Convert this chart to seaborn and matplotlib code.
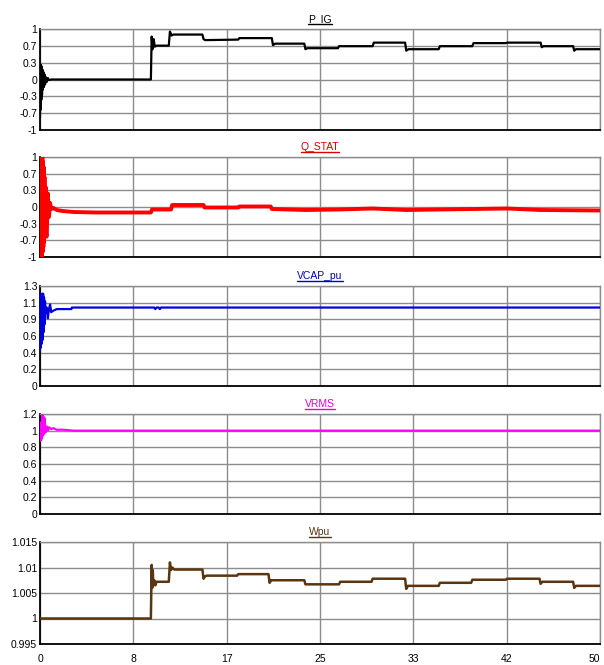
import numpy as np
import pandas as pd
import matplotlib
matplotlib.use("Agg")
import matplotlib.pyplot as plt
from matplotlib.lines import Line2D
import seaborn as sns

# ---------------- data ----------------
x_tick_labels = ["0", "8", "17", "25", "33", "42", "50"]

p_ig_t = [0, 0.03, 0.06, 0.09, 0.12, 0.15, 0.18, 0.21, 0.25, 0.3, 0.35, 0.4, 0.45, 0.5, 0.6, 0.7,
          0.8, 1.0, 9.9, 9.97, 10.05, 10.15, 10.25, 10.4, 11.5, 11.6, 11.75, 11.9, 14.5, 14.6,
          14.75, 17.7, 17.8, 20.7, 20.8, 21.0, 23.6, 23.7, 23.85, 26.6, 26.7, 29.7, 29.8, 32.6,
          32.7, 32.9, 35.6, 35.7, 38.6, 38.7, 41.6, 41.7, 44.7, 44.8, 44.95, 47.6, 47.7, 47.85, 50]
p_ig_v = [-0.75, 0.3, -0.6, 0.28, -0.4, 0.25, -0.3, 0.2, -0.2, 0.15, -0.15, 0.1, -0.1, 0.05,
          -0.05, 0.03, -0.01, 0.0, 0.0, 0.85, 0.6, 0.8, 0.65, 0.67, 0.67, 0.95, 0.87, 0.89,
          0.89, 0.8, 0.78, 0.79, 0.82, 0.82, 0.68, 0.71, 0.71, 0.6, 0.62, 0.62, 0.66, 0.66,
          0.73, 0.73, 0.57, 0.6, 0.6, 0.66, 0.66, 0.72, 0.72, 0.73, 0.73, 0.64, 0.66, 0.66,
          0.57, 0.6, 0.6]
p_ig_ticks = ["-1", "-0.7", "-0.3", "0", "0.3", "0.7", "1"]

q_stat_t = [0, 0.03, 0.06, 0.09, 0.12, 0.15, 0.18, 0.21, 0.24, 0.27, 0.3, 0.33, 0.36, 0.4,
            0.45, 0.5, 0.55, 0.6, 0.7, 0.8, 0.9, 1.0, 1.2, 1.5, 2.0, 3.0, 5.0, 9.9, 10.0,
            11.7, 11.8, 14.6, 14.7, 17.7, 17.8, 20.6, 20.7, 23.7, 26.7, 29.7, 32.7, 35.7,
            38.7, 41.7, 44.7, 50]
q_stat_v = [-1, 1, -1, 1, -1, 1, -1, 1, -0.9, 0.9, -0.8, 0.8, -0.7, 0.6, -0.6, 0.4, -0.55,
            -0.59, 0.27, -0.2, 0.08, -0.04, -0.02, -0.06, -0.08, -0.1, -0.11, -0.11, -0.05,
            -0.05, 0.04, 0.04, -0.01, -0.01, 0.01, 0.01, -0.04, -0.06, -0.05, -0.03, -0.06,
            -0.05, -0.04, -0.03, -0.06, -0.07]
q_stat_ticks = ["-1", "-0.7", "-0.3", "0", "0.3", "0.7", "1"]

vcap_t = [0, 0.04, 0.08, 0.12, 0.16, 0.2, 0.24, 0.28, 0.32, 0.36, 0.4, 0.45, 0.5, 0.6, 0.7,
          0.8, 0.9, 1.0, 1.2, 1.5, 2.0, 2.8, 2.85, 10.2, 10.3, 10.4, 10.6, 10.7, 10.8, 50]
vcap_v = [0.46, 1.2, 0.5, 1.15, 0.55, 1.2, 0.6, 1.2, 0.7, 1.15, 0.8, 1.1, 0.95, 1.02, 0.88,
          1.0, 1.06, 0.96, 0.98, 1.0, 1.0, 1.0, 1.02, 1.02, 1.0, 1.02, 1.02, 1.0, 1.02, 1.02]
vcap_ticks = ["0", "0.2", "0.4", "0.6", "0.9", "1.1", "1.3"]

vrms_t = [0, 0.05, 0.1, 0.15, 0.2, 0.25, 0.3, 0.35, 0.4, 0.5, 0.6, 0.7, 0.8, 1.0, 1.2, 1.5,
          2.0, 3.0, 50]
vrms_v = [0.95, 0.88, 1.1, 0.9, 1.19, 0.94, 1.17, 0.96, 1.15, 0.98, 1.05, 1.0, 1.04, 1.02,
          1.03, 1.01, 1.012, 1.0, 1.0]
vrms_ticks = ["0", "0.2", "0.4", "0.6", "0.8", "1", "1.2"]

wpu_t = [0, 9.9, 9.97, 10.02, 10.07, 10.12, 10.2, 10.3, 10.4, 10.6, 11.5, 11.6, 11.7, 11.8,
         12.0, 14.5, 14.6, 14.75, 14.9, 17.6, 17.7, 20.4, 20.5, 20.65, 20.8, 23.6, 23.7, 26.7,
         26.8, 29.6, 29.7, 32.6, 32.7, 32.85, 35.6, 35.7, 38.5, 38.6, 41.6, 41.7, 44.6, 44.7,
         44.85, 47.6, 47.7, 47.85, 50]
wpu_v = [1.0, 1.0, 1.0105, 1.006, 1.0095, 1.0065, 1.0075, 1.0065, 1.0072, 1.0072, 1.0072,
         1.011, 1.0095, 1.01, 1.0096, 1.0096, 1.0078, 1.0083, 1.0084, 1.0084, 1.0087, 1.0087,
         1.007, 1.0075, 1.0075, 1.0075, 1.0067, 1.0067, 1.0072, 1.0072, 1.0078, 1.0078,
         1.0058, 1.0064, 1.0064, 1.007, 1.007, 1.0076, 1.0076, 1.0078, 1.0078, 1.0068,
         1.0072, 1.0072, 1.006, 1.0064, 1.0064]
wpu_ticks = ["0.995", "1", "1.005", "1.01", "1.015"]

panels = [
    ("P_IG", p_ig_t, p_ig_v, (-1, 1), p_ig_ticks, "#000000", "#000000", 1.6),
    ("Q_STAT", q_stat_t, q_stat_v, (-1, 1), q_stat_ticks, "#ff0000", "#e00000", 2.8),
    ("VCAP_pu", vcap_t, vcap_v, (0, 1.3), vcap_ticks, "#0000e0", "#0000c8", 1.6),
    ("VRMS", vrms_t, vrms_v, (0, 1.2), vrms_ticks, "#ff00ff", "#e000e0", 1.6),
    ("Wpu", wpu_t, wpu_v, (0.995, 1.015), wpu_ticks, "#5a3510", "#5a3510", 1.8),
]

# ---------------- figure ----------------
sns.set_style("white")
plt.rcParams["font.family"] = ["Liberation Sans", "DejaVu Sans"]

W, H = 604, 665
fig = plt.figure(figsize=(W / 100, H / 100), dpi=100)

# pixel boxes (top, bottom) for each panel
boxes = [(29, 130), (157, 257), (286, 386), (414, 514), (542, 644)]
left_px, right_px = 40, 600

axes = []
for (top, bot) in boxes:
    ax = fig.add_axes([left_px / W, 1 - bot / H, (right_px - left_px) / W, (bot - top) / H])
    axes.append(ax)

for i, (ax, (name, t, v, ylim, yticks, lc, tc, lw)) in enumerate(zip(axes, panels)):
    df = pd.DataFrame({"t": t, "v": v})
    sns.lineplot(data=df, x="t", y="v", ax=ax, color=lc, linewidth=lw,
                 estimator=None, sort=False, zorder=3)
    ax.set_xlim(0, 50)
    ax.set_ylim(*ylim)
    ax.set_yticks(np.linspace(ylim[0], ylim[1], len(yticks)))
    ax.set_yticklabels(yticks)
    ax.set_xticks(np.linspace(0, 50, len(x_tick_labels)))
    if i == len(panels) - 1:
        ax.set_xticklabels(x_tick_labels)
        ax.get_xticklabels()[-1].set_horizontalalignment("right")
    else:
        ax.set_xticklabels([])
    ax.set_xlabel("")
    ax.set_ylabel("")
    ax.grid(True, color="#8c8c8c", linewidth=1.0, zorder=0)
    ax.set_axisbelow(True)
    ax.tick_params(axis="both", length=0, labelsize=7.5, colors="#000000", pad=2)
    ax.tick_params(axis="x", pad=7)
    for s in ["left", "bottom"]:
        ax.spines[s].set_color("#000000")
        ax.spines[s].set_linewidth(1.3)
    for s in ["top", "right"]:
        ax.spines[s].set_color("#8c8c8c")
        ax.spines[s].set_linewidth(1.0)
    ax.set_title(name, fontsize=7.5, color=tc, pad=5)

# underline titles
fig.canvas.draw()
renderer = fig.canvas.get_renderer()
for ax, p in zip(axes, panels):
    bb = ax.title.get_window_extent(renderer)
    inv = fig.transFigure.inverted()
    (x0, y0), (x1, y1) = inv.transform([(bb.x0, bb.y0), (bb.x1, bb.y1)])
    fig.add_artist(Line2D([x0, x1], [y0 + 0.5 / H, y0 + 0.5 / H], transform=fig.transFigure,
                          color=p[6], linewidth=1.0))

fig.savefig("out.png", dpi=100, facecolor="white")
